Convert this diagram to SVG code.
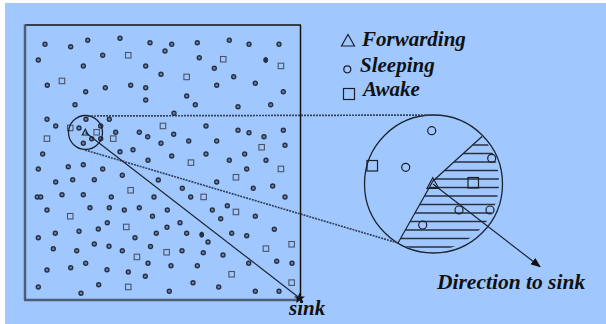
<svg xmlns="http://www.w3.org/2000/svg" width="606" height="324" viewBox="0 0 606 324">
<defs>
<style>
.d{fill:#6f80a0;stroke:#263045;stroke-width:1.4}
.dk{fill:#263045;stroke:#263045;stroke-width:1}
.s{fill:none;stroke:#4a5466;stroke-width:1.1}
.txt{font-family:"Liberation Serif","Times New Roman",serif;font-weight:bold;font-style:italic;fill:#111}
.ring{fill:none;stroke:#1e2430;stroke-width:1.3}
.dot{fill:none;stroke:#34425e;stroke-width:1.7;stroke-dasharray:2 1}
.ln{fill:none;stroke:#1e2430;stroke-width:1.2}
.hat{stroke:#2a3040;stroke-width:1.4}
.sym{fill:none;stroke:#1a1f2a;stroke-width:1.2}
</style>
<marker id="ah" markerWidth="10" markerHeight="8" refX="9" refY="4" orient="auto" markerUnits="userSpaceOnUse">
<path d="M0,0 L10,4 L0,8 Z" fill="#111"/>
</marker>
<clipPath id="hclip">
<path d="M433,181 L482,136.5 A69 69 0 0 1 398,243 Z"/>
</clipPath>
</defs>
<rect x="0" y="0" width="606" height="324" fill="#fff"/>
<rect x="5" y="3" width="601" height="321" fill="#a0c8ff"/>

<g id="field">
<line x1="25" y1="25" x2="301" y2="25" stroke="#111" stroke-width="1.5"/>
<line x1="300.5" y1="25" x2="300.5" y2="299" stroke="#111" stroke-width="1.5"/>
<line x1="25" y1="24.5" x2="25" y2="300" stroke="#4d5d78" stroke-width="2.5"/>
<line x1="24" y1="300" x2="299" y2="300" stroke="#4d5d78" stroke-width="2.5"/>
</g>

<g id="sensors">
<circle class="d" cx="45" cy="44.3" r="2"/><circle class="d" cx="70.7" cy="46.7" r="2"/><circle class="d" cx="87.7" cy="40.3" r="2"/><circle class="d" cx="120" cy="38.3" r="2"/><circle class="d" cx="150" cy="42.7" r="2"/><circle class="d" cx="171.7" cy="44.3" r="2"/><circle class="d" cx="197.3" cy="42.7" r="2"/><circle class="d" cx="229.3" cy="40.3" r="2"/><circle class="d" cx="249" cy="44.3" r="2"/><circle class="d" cx="279" cy="44.3" r="2"/>
<circle class="d" cx="38.3" cy="60" r="2"/><circle class="d" cx="102.7" cy="55.3" r="2"/><circle class="d" cx="165" cy="51" r="2"/><circle class="d" cx="199.3" cy="57.7" r="2"/><ellipse class="dk" cx="265.7" cy="60" rx="2" ry="2.6"/>
<circle class="d" cx="83.3" cy="66" r="2"/><circle class="d" cx="145.7" cy="66" r="2"/><circle class="d" cx="214.3" cy="68.3" r="2"/>
<circle class="d" cx="161" cy="74.3" r="2"/><circle class="d" cx="233.7" cy="76.7" r="2"/>
<circle class="d" cx="47.3" cy="85.3" r="2"/><circle class="d" cx="85.7" cy="91.7" r="2"/><circle class="d" cx="105.3" cy="87.7" r="2"/><circle class="d" cx="130.7" cy="85.3" r="2"/><circle class="d" cx="145.7" cy="87.7" r="2"/><circle class="d" cx="216.7" cy="85.3" r="2"/><circle class="d" cx="255.3" cy="83.3" r="2"/><circle class="d" cx="283.3" cy="91.7" r="2"/>
<circle class="d" cx="145.7" cy="100" r="2"/><circle class="d" cx="186.7" cy="96" r="2"/><circle class="d" cx="75" cy="104.7" r="2"/><circle class="d" cx="195.3" cy="104.7" r="2"/><circle class="d" cx="238" cy="106.7" r="2"/><circle class="d" cx="270.7" cy="104.7" r="2"/>
<circle class="d" cx="174" cy="113.3" r="2"/>
<circle class="d" cx="47" cy="119.3" r="2"/><circle class="d" cx="86" cy="119.3" r="2"/><circle class="d" cx="109.3" cy="119.3" r="2"/>
<circle class="d" cx="55.7" cy="126" r="2"/><circle class="d" cx="79" cy="128" r="2"/><circle class="d" cx="100.7" cy="126" r="2"/><circle class="d" cx="206" cy="126" r="2"/>
<circle class="d" cx="115.7" cy="132.3" r="2"/><circle class="d" cx="139.3" cy="132.3" r="2"/><circle class="d" cx="147.7" cy="136.7" r="2"/><circle class="d" cx="173.7" cy="134.3" r="2"/><circle class="d" cx="91.7" cy="138.7" r="2"/><circle class="d" cx="100.7" cy="138.7" r="2"/><circle class="d" cx="83.3" cy="143.3" r="2"/><circle class="d" cx="161" cy="143.3" r="2"/><circle class="d" cx="188.7" cy="141" r="2"/><circle class="d" cx="238" cy="130.3" r="2"/><circle class="d" cx="249" cy="132.7" r="2"/><circle class="d" cx="283.3" cy="130.3" r="2"/><circle class="d" cx="264" cy="136.7" r="2"/><circle class="d" cx="216.7" cy="141" r="2"/><circle class="d" cx="285" cy="145.3" r="2"/>
<circle class="d" cx="42.7" cy="154" r="2"/><circle class="d" cx="120" cy="151.7" r="2"/><circle class="d" cx="133" cy="149.7" r="2"/><circle class="d" cx="171.7" cy="156" r="2"/><circle class="d" cx="206" cy="154" r="2"/><circle class="d" cx="244.7" cy="154" r="2"/>
<circle class="d" cx="148" cy="160.3" r="2"/><circle class="d" cx="229.3" cy="160.3" r="2"/><circle class="d" cx="266" cy="160.3" r="2"/><circle class="d" cx="246.7" cy="169" r="2"/><circle class="d" cx="38.3" cy="169" r="2"/><circle class="d" cx="68.3" cy="166.7" r="2"/><circle class="d" cx="83.3" cy="164.7" r="2"/><circle class="d" cx="102.7" cy="169" r="2"/>
<circle class="d" cx="55.7" cy="182" r="2"/><circle class="d" cx="72.7" cy="179.7" r="2"/><circle class="d" cx="94.3" cy="179.7" r="2"/><circle class="d" cx="122.3" cy="175.3" r="2"/><circle class="d" cx="158.3" cy="180" r="2"/><circle class="d" cx="216.7" cy="182" r="2"/><circle class="d" cx="272.7" cy="186" r="2"/><circle class="d" cx="253.3" cy="188.3" r="2"/><circle class="d" cx="182.3" cy="188.3" r="2"/>
<circle class="d" cx="37.3" cy="197" r="2"/><circle class="d" cx="40.7" cy="197" r="2"/><circle class="d" cx="62" cy="194.7" r="2"/><circle class="d" cx="83.3" cy="194.7" r="2"/><circle class="d" cx="111.3" cy="197" r="2"/><circle class="d" cx="154" cy="197" r="2"/><circle class="d" cx="190.7" cy="197" r="2"/><circle class="d" cx="285" cy="197" r="2"/>
<circle class="d" cx="47" cy="210" r="2"/><circle class="d" cx="90" cy="207.7" r="2"/><circle class="d" cx="109.3" cy="207.7" r="2"/><circle class="d" cx="124.3" cy="210" r="2"/><circle class="d" cx="139.3" cy="207.7" r="2"/><circle class="d" cx="167.3" cy="210" r="2"/><circle class="d" cx="212.3" cy="210" r="2"/><circle class="d" cx="227.3" cy="205.7" r="2"/><circle class="d" cx="255.3" cy="216.3" r="2"/><circle class="d" cx="152.5" cy="216.3" r="2"/><circle class="d" cx="220.7" cy="218.7" r="2"/>
<circle class="d" cx="107.3" cy="222.7" r="2"/><circle class="d" cx="180" cy="222.7" r="2"/><circle class="d" cx="98.3" cy="229" r="2"/><circle class="d" cx="79" cy="231.3" r="2"/><circle class="d" cx="167" cy="227.3" r="2"/><circle class="d" cx="274.3" cy="229.3" r="2"/><circle class="d" cx="55.3" cy="233.3" r="2"/><circle class="d" cx="156.3" cy="233.3" r="2"/><circle class="d" cx="186.7" cy="233.3" r="2"/><ellipse class="dk" cx="201.7" cy="234.7" rx="2" ry="2.6"/><circle class="d" cx="231.7" cy="233.3" r="2"/><circle class="d" cx="246.7" cy="235.7" r="2"/>
<circle class="d" cx="38.3" cy="237.7" r="2"/><circle class="d" cx="135" cy="237.7" r="2"/><circle class="d" cx="208" cy="242" r="2"/>
<circle class="d" cx="53.3" cy="248.7" r="2"/><circle class="d" cx="76.7" cy="250.7" r="2"/><circle class="d" cx="94.3" cy="244" r="2"/><circle class="d" cx="109" cy="246.3" r="2"/><circle class="d" cx="122.3" cy="250.7" r="2"/><circle class="d" cx="150.5" cy="246.5" r="2"/><circle class="d" cx="182" cy="250.7" r="2"/><circle class="d" cx="203.3" cy="252.7" r="2"/><circle class="d" cx="223" cy="255" r="2"/>
<circle class="d" cx="248.7" cy="263.3" r="2"/><circle class="d" cx="276.7" cy="261.3" r="2"/><circle class="d" cx="292" cy="263.3" r="2"/><circle class="d" cx="171" cy="265.7" r="2"/><circle class="d" cx="197.3" cy="265.7" r="2"/>
<circle class="d" cx="47" cy="270" r="2"/><circle class="d" cx="70.7" cy="267.7" r="2"/><circle class="d" cx="85.7" cy="263.3" r="2"/><circle class="d" cx="107" cy="269.7" r="2"/><circle class="d" cx="128.3" cy="272" r="2"/><circle class="d" cx="148" cy="263.3" r="2"/><circle class="d" cx="145.3" cy="276.3" r="2"/>
<circle class="d" cx="193" cy="282.7" r="2"/><circle class="d" cx="218.7" cy="287" r="2"/><circle class="d" cx="255.3" cy="291.3" r="2"/><circle class="d" cx="279" cy="291.3" r="2"/><circle class="d" cx="169.3" cy="291.3" r="2"/>
<circle class="d" cx="38.3" cy="287" r="2"/><circle class="d" cx="98.7" cy="284.7" r="2"/><circle class="d" cx="81" cy="293.3" r="2"/>
<rect class="s" x="125.5" y="52.5" width="5.5" height="5.5"/><rect class="s" x="59.2" y="78.2" width="5.5" height="5.5"/><rect class="s" x="183.9" y="74.2" width="5.5" height="5.5"/><rect class="s" x="220.5" y="56.5" width="5.5" height="5.5"/><rect class="s" x="278.2" y="63.2" width="5.5" height="5.5"/><rect class="s" x="67.5" y="125.2" width="5.5" height="5.5"/><rect class="s" x="160.2" y="123.2" width="5.5" height="5.5"/><rect class="s" x="44.2" y="135.9" width="5.5" height="5.5"/><rect class="s" x="93.9" y="129.5" width="5.5" height="5.5"/><rect class="s" x="110.5" y="135.9" width="5.5" height="5.5"/><rect class="s" x="258.9" y="144.5" width="5.5" height="5.5"/>
<rect class="s" x="188.2" y="159.9" width="5.5" height="5.5"/><rect class="s" x="233.2" y="174.5" width="5.5" height="5.5"/><rect class="s" x="278.2" y="166.2" width="5.5" height="5.5"/><rect class="s" x="127.9" y="187.5" width="5.5" height="5.5"/><rect class="s" x="200.9" y="194.2" width="5.5" height="5.5"/><rect class="s" x="233.2" y="209.2" width="5.5" height="5.5"/><rect class="s" x="67.5" y="213.5" width="5.5" height="5.5"/><rect class="s" x="123.5" y="224.2" width="5.5" height="5.5"/><rect class="s" x="288.9" y="241.5" width="5.5" height="5.5"/><rect class="s" x="263.2" y="245.9" width="5.5" height="5.5"/><rect class="s" x="163.9" y="249.5" width="5.5" height="5.5"/><rect class="s" x="134.2" y="254.2" width="5.5" height="5.5"/><rect class="s" x="228.9" y="271.5" width="5.5" height="5.5"/><rect class="s" x="288.9" y="279.9" width="5.5" height="5.5"/><rect class="s" x="125.5" y="284.2" width="5.5" height="5.5"/>
<path class="sym" d="M85.3,129.3 L88.3,135 L82.3,135 Z"/>
</g>

<g id="zoom-small">
<circle class="ring" cx="85.5" cy="132.5" r="17"/>
</g>

<g id="sink">
<path d="M299.5,292.5 L301,296.5 L305,296.6 L301.9,299 L303,303 L299.5,300.6 L296,303 L297.1,299 L294,296.6 L298,296.5 Z" fill="#111"/>
<text class="txt" x="289" y="315" font-size="21">sink</text>
</g>

<g id="zoom-large">
<g clip-path="url(#hclip)">
<line class="hat" x1="390" y1="136.5" x2="506" y2="136.5"/><line class="hat" x1="390" y1="145" x2="506" y2="145"/><line class="hat" x1="390" y1="153.5" x2="506" y2="153.5"/><line class="hat" x1="390" y1="162" x2="506" y2="162"/><line class="hat" x1="390" y1="170.5" x2="506" y2="170.5"/><line class="hat" x1="390" y1="179" x2="506" y2="179"/><line class="hat" x1="390" y1="187.5" x2="506" y2="187.5"/><line class="hat" x1="390" y1="196" x2="506" y2="196"/><line class="hat" x1="390" y1="204.5" x2="506" y2="204.5"/><line class="hat" x1="390" y1="213" x2="506" y2="213"/><line class="hat" x1="390" y1="221.5" x2="506" y2="221.5"/><line class="hat" x1="390" y1="230" x2="506" y2="230"/><line class="hat" x1="390" y1="238.5" x2="506" y2="238.5"/><line class="hat" x1="390" y1="247" x2="506" y2="247"/>
</g>
<polyline class="ln" points="398,243 433,181 482,136.5"/>
<circle class="ring" cx="433.5" cy="184" r="69"/>
<circle class="sym" cx="431.7" cy="130.7" r="4"/>
<rect class="sym" x="367" y="160.5" width="10.5" height="10.5"/>
<circle class="sym" cx="405.7" cy="167.3" r="4"/>
<path class="sym" d="M432.8,177.7 L438.8,188.3 L427,188.3 Z"/>
<rect class="sym" x="468" y="177.5" width="10.5" height="10.5"/>
<circle class="sym" cx="491.7" cy="158.3" r="4"/>
<circle class="sym" cx="459" cy="210" r="4"/>
<circle class="sym" cx="490" cy="210" r="4"/>
<circle class="sym" cx="422.7" cy="225" r="4"/>
</g>

<g id="legend">
<path class="sym" d="M348,34.5 L354.5,46 L341.5,46 Z"/>
<text class="txt" x="362" y="46" font-size="21">Forwarding</text>
<circle class="sym" cx="347.3" cy="69.3" r="3.5"/>
<text class="txt" x="360" y="71.5" font-size="21">Sleeping</text>
<rect class="sym" x="343.5" y="88.5" width="11" height="11"/>
<text class="txt" x="363" y="96" font-size="21">Awake</text>
</g>

<g id="direction-label">
<text class="txt" x="437" y="289" font-size="21.5">Direction to sink</text>
</g>

<g id="connectors">
<line class="dot" x1="88" y1="116" x2="437" y2="115"/>
<line class="dot" x1="85" y1="150" x2="398" y2="243"/>
<line class="ln" x1="85.5" y1="132.5" x2="299.5" y2="298"/>
<line class="ln" x1="433" y1="184" x2="540" y2="266.7" marker-end="url(#ah)"/>
</g>
</svg>
